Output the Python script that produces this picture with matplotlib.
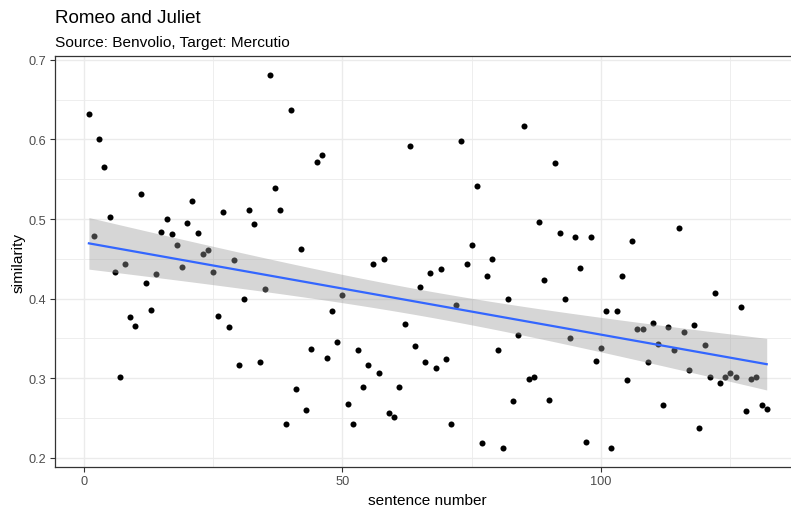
import numpy as np
import matplotlib
matplotlib.use("Agg")
import matplotlib.pyplot as plt

# similaridade por frase (frases 1..132)
similarity = [
    0.632, 0.479, 0.601, 0.566, 0.503, 0.434, 0.302, 0.443, 0.377, 0.366,
    0.531, 0.420, 0.386, 0.431, 0.484, 0.500, 0.481, 0.468, 0.440, 0.495,
    0.523, 0.483, 0.456, 0.461, 0.434, 0.378, 0.509, 0.365, 0.448, 0.317,
    0.399, 0.511, 0.494, 0.321, 0.412, 0.681, 0.539, 0.511, 0.243, 0.637,
    0.286, 0.463, 0.260, 0.337, 0.572, 0.581, 0.326, 0.384, 0.345, 0.405,
    0.268, 0.243, 0.335, 0.289, 0.317, 0.444, 0.306, 0.450, 0.257, 0.251,
    0.289, 0.368, 0.592, 0.341, 0.415, 0.321, 0.432, 0.313, 0.437, 0.324,
    0.243, 0.392, 0.598, 0.443, 0.468, 0.541, 0.219, 0.429, 0.450, 0.335,
    0.212, 0.400, 0.271, 0.354, 0.617, 0.299, 0.301, 0.496, 0.424, 0.273,
    0.570, 0.483, 0.400, 0.350, 0.478, 0.439, 0.220, 0.478, 0.322, 0.338,
    0.384, 0.212, 0.385, 0.428, 0.298, 0.473, 0.362, 0.362, 0.321, 0.370,
    0.343, 0.267, 0.364, 0.335, 0.489, 0.358, 0.310, 0.367, 0.238, 0.342,
    0.301, 0.407, 0.294, 0.302, 0.307, 0.302, 0.390, 0.259, 0.299, 0.302,
    0.267, 0.262,
]
sentence = np.arange(1, len(similarity) + 1)

title = "Romeo and Juliet"
subtitle = "Source: Benvolio, Target: Mercutio"
x_ticks = [0, 50, 100]
y_ticks = [0.2, 0.3, 0.4, 0.5, 0.6, 0.7]

# regressao linear + intervalo de confianca 95% (igual geom_smooth(method="lm"))
x = sentence.astype(float)
y = np.array(similarity)
n = len(x)
b1, b0 = np.polyfit(x, y, 1)
resid = y - (b0 + b1 * x)
s = np.sqrt(np.sum(resid ** 2) / (n - 2))
sxx = np.sum((x - x.mean()) ** 2)
t_crit = 1.9784  # t(0.975, df=130)
xs = np.linspace(x.min(), x.max(), 80)
ys = b0 + b1 * xs
se = s * np.sqrt(1 / n + (xs - x.mean()) ** 2 / sxx)

fig = plt.figure(figsize=(7.91, 5.10), dpi=100)
# o painel original passa da borda direita da imagem (foi cortado)
ax = fig.add_axes([55 / 791, 42 / 510, 745.6 / 791, 410.7 / 510])

ax.scatter(x, y, s=19, color="black", linewidths=0, zorder=3)
ax.fill_between(xs, ys - t_crit * se, ys + t_crit * se, color="#999999",
                alpha=0.4, linewidth=0, zorder=4)
ax.plot(xs, ys, color="#3366FF", lw=1.6, zorder=5)

xr = x.max() - x.min()
yr = y.max() - y.min()
ax.set_xlim(x.min() - 0.05 * xr, x.max() + 0.05 * xr)
ax.set_ylim(y.min() - 0.05 * yr, y.max() + 0.05 * yr)

ax.set_xticks(x_ticks)
ax.set_yticks(y_ticks)
ax.set_yticklabels([f"{v:.1f}" for v in y_ticks])
ax.set_xticks([25, 75, 125], minor=True)
ax.set_yticks([0.25, 0.35, 0.45, 0.55, 0.65], minor=True)
ax.grid(which="major", color="#EBEBEB", lw=1.0, zorder=0)
ax.grid(which="minor", color="#EBEBEB", lw=0.6, zorder=0)
ax.set_axisbelow(True)
ax.tick_params(which="major", length=3.6, width=0.8, color="#333333",
               labelsize=9.2, labelcolor="#4D4D4D", pad=2.5)
ax.tick_params(which="minor", length=0)
for sp in ax.spines.values():
    sp.set_color("#333333")
    sp.set_linewidth(0.9)

fig.text(55 / 791, 1 - 22.7 / 510, title, fontsize=13.5, family="Liberation Sans",
         va="baseline", ha="left")
fig.text(55 / 791, 1 - 46.5 / 510, subtitle, fontsize=11.1, family="Liberation Sans",
         va="baseline", ha="left")
fig.text(427.8 / 791, 1 - 505 / 510, "sentence number", fontsize=11.1,
         family="Liberation Sans", va="baseline", ha="center")
fig.text(19 / 791, 1 - 262.7 / 510, "similarity", fontsize=11.1, rotation=90,
         family="Liberation Sans", va="center", ha="center")
for lab in ax.get_xticklabels() + ax.get_yticklabels():
    lab.set_family("Liberation Sans")

fig.savefig("out.png", dpi=100)
